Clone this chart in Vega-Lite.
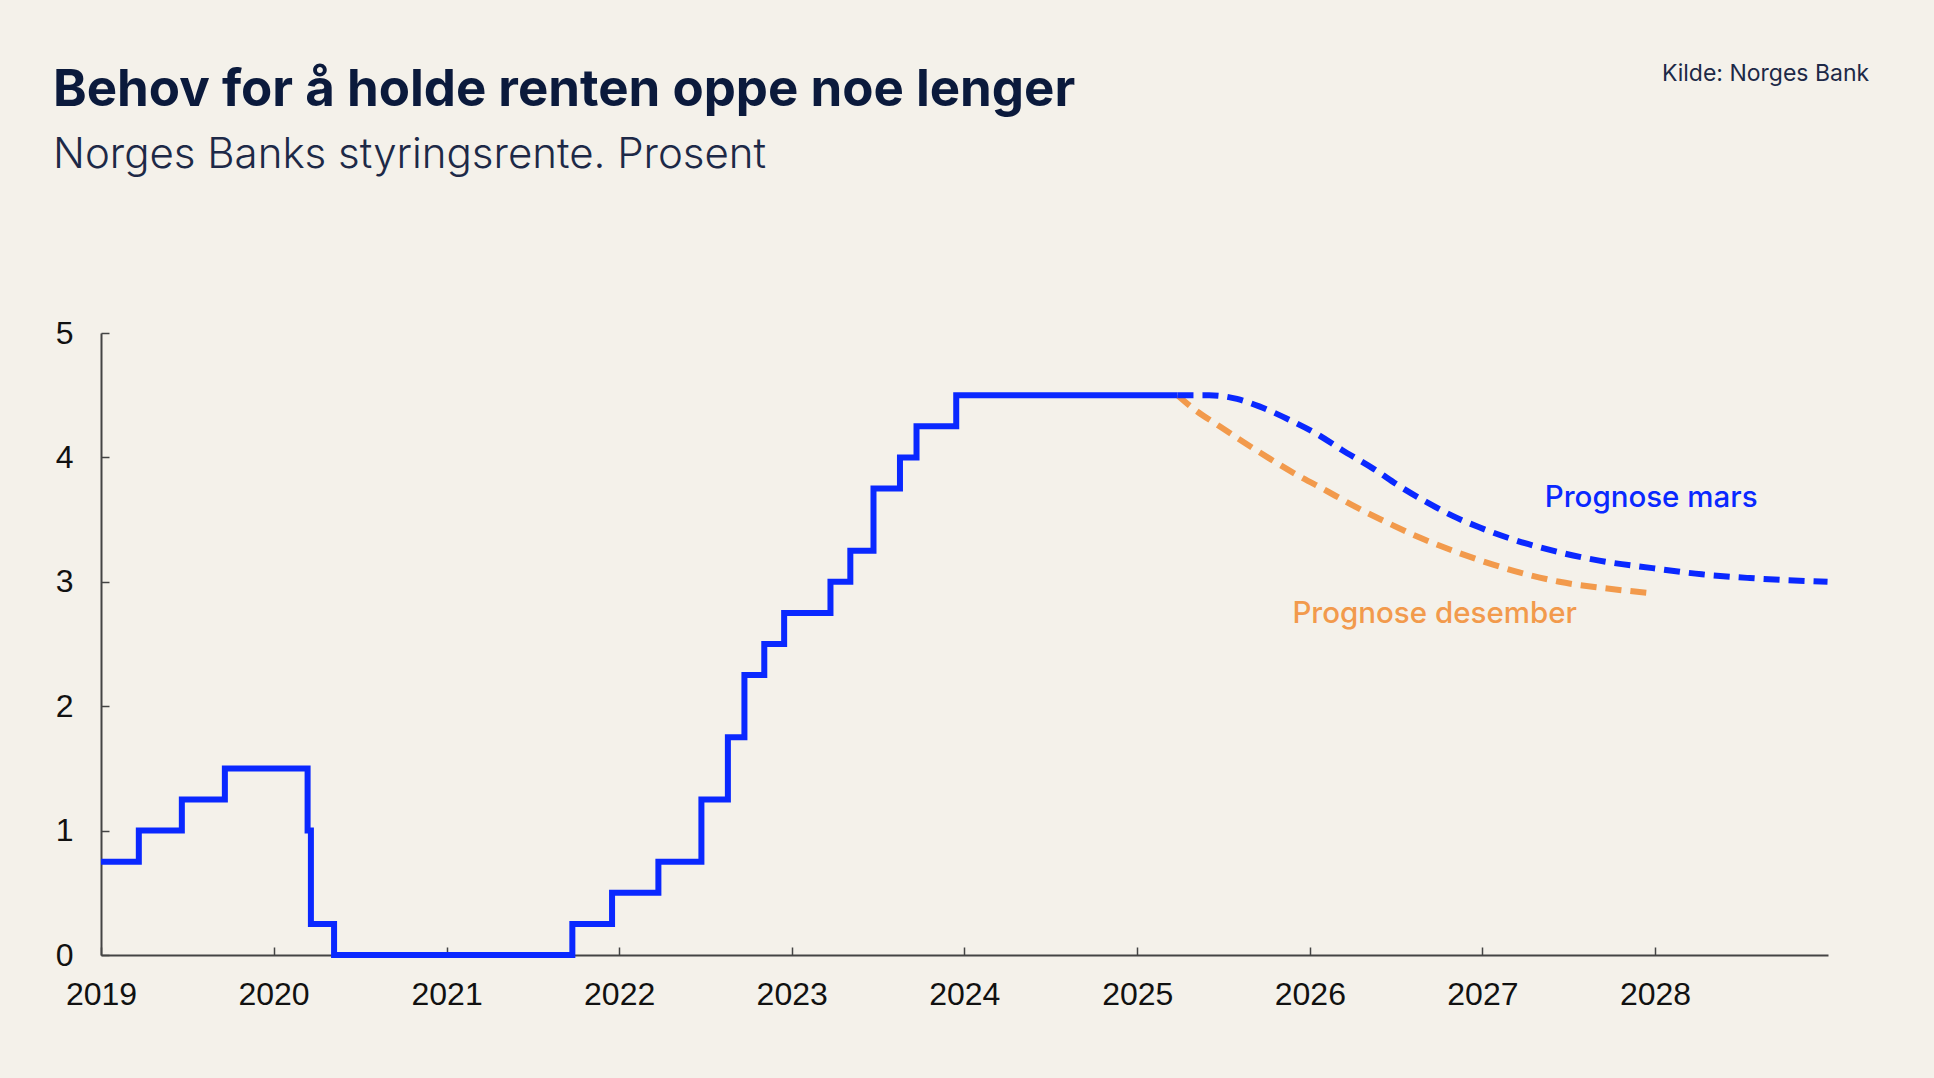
{
  "$schema": "https://vega.github.io/schema/vega-lite/v6.json",
  "autosize": {"type": "none"},
  "width": 1727,
  "height": 622,
  "padding": {"left": 101, "top": 333, "right": 106, "bottom": 123},
  "background": "#f4f1ea",
  "config": {
    "view": {"stroke": null},
    "axis": {
      "grid": false,
      "domainColor": "#444444",
      "domainWidth": 2,
      "tickColor": "#444444",
      "tickWidth": 1.5,
      "tickSize": -8,
      "labelFont": "Liberation Sans",
      "labelFontSize": 32,
      "labelColor": "#111111",
      "title": null
    }
  },
  "title": {
    "text": "Behov for å holde renten oppe noe lenger",
    "subtitle": "Norges Banks styringsrente. Prosent",
    "anchor": "start",
    "frame": "group",
    "dx": -48,
    "offset": -114,
    "font": "Inter",
    "fontSize": 51,
    "fontWeight": 700,
    "color": "#0b1a3c",
    "subtitleFont": "Inter",
    "subtitleFontSize": 42,
    "subtitleFontWeight": 300,
    "subtitleColor": "#1d2947",
    "subtitlePadding": 18
  },
  "datasets": {
    "rate": [
      {"date": "2019-01-01", "value": 0.75},
      {"date": "2019-03-22", "value": 1.0},
      {"date": "2019-06-21", "value": 1.25},
      {"date": "2019-09-20", "value": 1.5},
      {"date": "2020-03-13", "value": 1.0},
      {"date": "2020-03-20", "value": 0.25},
      {"date": "2020-05-08", "value": 0.0},
      {"date": "2021-09-24", "value": 0.25},
      {"date": "2021-12-17", "value": 0.5},
      {"date": "2022-03-25", "value": 0.75},
      {"date": "2022-06-24", "value": 1.25},
      {"date": "2022-08-19", "value": 1.75},
      {"date": "2022-09-23", "value": 2.25},
      {"date": "2022-11-04", "value": 2.5},
      {"date": "2022-12-16", "value": 2.75},
      {"date": "2023-03-24", "value": 3.0},
      {"date": "2023-05-05", "value": 3.25},
      {"date": "2023-06-23", "value": 3.75},
      {"date": "2023-08-18", "value": 4.0},
      {"date": "2023-09-22", "value": 4.25},
      {"date": "2023-12-15", "value": 4.5},
      {"date": "2025-03-27", "value": 4.5}
    ],
    "mars": [
      {"date": "2025-03-27", "value": 4.5},
      {"date": "2025-06-02", "value": 4.5},
      {"date": "2025-07-31", "value": 4.47},
      {"date": "2025-09-16", "value": 4.41},
      {"date": "2025-11-25", "value": 4.29},
      {"date": "2026-01-15", "value": 4.19},
      {"date": "2026-03-10", "value": 4.06},
      {"date": "2026-05-15", "value": 3.91},
      {"date": "2026-07-09", "value": 3.77},
      {"date": "2026-09-05", "value": 3.64},
      {"date": "2026-10-30", "value": 3.53},
      {"date": "2026-12-24", "value": 3.44},
      {"date": "2027-03-07", "value": 3.34},
      {"date": "2027-05-30", "value": 3.25},
      {"date": "2027-09-05", "value": 3.17},
      {"date": "2027-12-27", "value": 3.11},
      {"date": "2028-04-09", "value": 3.06},
      {"date": "2028-07-20", "value": 3.03},
      {"date": "2028-12-31", "value": 3.0}
    ],
    "desember": [
      {"date": "2025-03-27", "value": 4.5},
      {"date": "2025-04-27", "value": 4.4},
      {"date": "2025-06-24", "value": 4.25},
      {"date": "2025-08-11", "value": 4.13},
      {"date": "2025-10-08", "value": 3.99},
      {"date": "2025-12-09", "value": 3.85},
      {"date": "2026-02-06", "value": 3.73},
      {"date": "2026-04-09", "value": 3.6},
      {"date": "2026-06-17", "value": 3.47},
      {"date": "2026-08-25", "value": 3.35},
      {"date": "2026-11-14", "value": 3.23},
      {"date": "2027-01-22", "value": 3.14},
      {"date": "2027-04-05", "value": 3.06},
      {"date": "2027-06-13", "value": 3.0},
      {"date": "2027-09-13", "value": 2.95},
      {"date": "2027-12-20", "value": 2.91}
    ],
    "labels": [
      {"date": "2027-12-24", "value": 3.6, "label": "Prognose mars", "series": "mars"},
      {"date": "2026-09-22", "value": 2.67, "label": "Prognose desember", "series": "desember"}
    ],
    "source": [
      {"date": "2029-03-29", "value": 7.08, "label": "Kilde: Norges Bank"}
    ]
  },
  "encoding": {
    "x": {
      "field": "date",
      "type": "temporal",
      "scale": {"type": "utc", "domain": [{"year": 2019, "month": 1, "date": 1, "utc": true}, {"year": 2029, "month": 1, "date": 1, "utc": true}]},
      "axis": {
        "values": [
          {"year": 2019, "month": 1, "date": 1, "utc": true},
          {"year": 2020, "month": 1, "date": 1, "utc": true},
          {"year": 2021, "month": 1, "date": 1, "utc": true},
          {"year": 2022, "month": 1, "date": 1, "utc": true},
          {"year": 2023, "month": 1, "date": 1, "utc": true},
          {"year": 2024, "month": 1, "date": 1, "utc": true},
          {"year": 2025, "month": 1, "date": 1, "utc": true},
          {"year": 2026, "month": 1, "date": 1, "utc": true},
          {"year": 2027, "month": 1, "date": 1, "utc": true},
          {"year": 2028, "month": 1, "date": 1, "utc": true}
        ],
        "format": "%Y",
        "labelPadding": 32,
        "labelFlush": false
      }
    },
    "y": {
      "field": "value",
      "type": "quantitative",
      "scale": {"domain": [0, 5], "nice": false, "zero": true},
      "axis": {"values": [0, 1, 2, 3, 4, 5], "labelPadding": 36}
    }
  },
  "layer": [
    {
      "data": {"name": "desember"},
      "mark": {"type": "line", "interpolate": "monotone", "color": "#f29a4c", "strokeWidth": 6, "strokeDash": [16, 9], "strokeCap": "butt"}
    },
    {
      "data": {"name": "mars"},
      "mark": {"type": "line", "interpolate": "monotone", "color": "#0a28ff", "strokeWidth": 6, "strokeDash": [16, 9], "strokeCap": "butt"}
    },
    {
      "data": {"name": "rate"},
      "mark": {"type": "line", "interpolate": "step-after", "color": "#0a28ff", "strokeWidth": 6}
    },
    {
      "data": {"name": "labels"},
      "mark": {"type": "text", "font": "Inter", "fontSize": 29.5, "fontWeight": 500, "align": "center", "baseline": "alphabetic"},
      "encoding": {
        "text": {"field": "label"},
        "color": {"field": "series", "type": "nominal", "scale": {"domain": ["mars", "desember"], "range": ["#0a28ff", "#f29a4c"]}, "legend": null}
      }
    },
    {
      "data": {"name": "source"},
      "mark": {"type": "text", "font": "Inter", "fontSize": 23, "fontWeight": 400, "align": "right", "baseline": "middle", "color": "#1d2947"},
      "encoding": {
        "text": {"field": "label"}
      }
    }
  ]
}
